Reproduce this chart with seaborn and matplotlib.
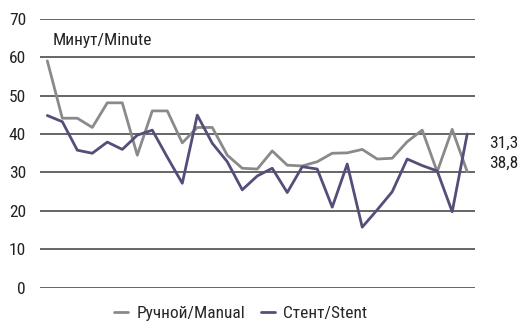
import matplotlib
matplotlib.use("Agg")
import matplotlib.pyplot as plt
import seaborn as sns
import pandas as pd
import numpy as np

# Procedure times per case, minutes
manual = [59.0, 44.1, 44.1, 41.7, 48.1, 48.1, 34.5, 46.0, 46.0, 37.7,
          41.7, 41.7, 34.5, 31.1, 30.9, 35.6, 31.9, 31.7, 32.8, 35.0,
          35.1, 36.0, 33.5, 33.7, 38.0, 41.0, 30.2, 41.2, 30.2]
stent = [44.8, 43.2, 35.8, 35.0, 37.9, 36.0, 39.7, 41.0, 34.0, 27.2,
         44.9, 37.6, 32.8, 25.5, 29.1, 31.1, 24.8, 31.5, 30.9, 21.0,
         32.2, 15.8, 20.3, 25.0, 33.5, 31.8, 30.4, 19.8, 40.0]
series_names = ["Ручной/Manual", "Стент/Stent"]
end_labels = ["31,3", "38,8"]
y_ticks = [0, 10, 20, 30, 40, 50, 60, 70]

sns.set_style("white")
plt.rcParams["font.family"] = ["Roboto Condensed", "Liberation Sans Narrow",
                               "Roboto", "DejaVu Sans"]
plt.rcParams["font.stretch"] = "condensed"

n = len(manual)
df = pd.DataFrame({
    "case": list(range(n)) * 2,
    "minutes": manual + stent,
    "series": [series_names[0]] * n + [series_names[1]] * n,
})

fig = plt.figure(figsize=(5.23, 3.27), dpi=100)
ax = fig.add_axes([0.0765, 0.1193, 0.908 - 0.0765, 0.9434 - 0.1193])

palette = {series_names[0]: "#8a8a8a", series_names[1]: "#564d7b"}
sns.lineplot(data=df, x="case", y="minutes", hue="series", palette=palette,
             linewidth=2.0, ax=ax, legend=True)

for v in y_ticks:
    ax.axhline(v, color="#3c3c3c", linewidth=1.1, zorder=0)

ax.set_ylim(0, 70)
ax.set_xlim(-0.487, 28.513)
ax.set_yticks(y_ticks)
ax.set_yticklabels([str(v) for v in y_ticks], fontsize=12.5, color="#222222")
ax.set_xticks([])
ax.tick_params(axis="y", length=0, pad=10)
ax.set_xlabel("")
ax.set_ylabel("")
for s in ax.spines.values():
    s.set_visible(False)

ax.text(0.36, 64.4, "Минут/Minute", fontsize=12.5, color="#222222",
        ha="left", va="center")

ax.text(1.032, 37.6, end_labels[0], transform=ax.get_yaxis_transform(),
        fontsize=12.5, color="#222222", ha="left", va="center", clip_on=False)
ax.text(1.032, 32.4, end_labels[1], transform=ax.get_yaxis_transform(),
        fontsize=12.5, color="#222222", ha="left", va="center", clip_on=False)

handles, labels = ax.get_legend_handles_labels()
ax.legend(handles, labels, loc="center", bbox_to_anchor=(0.461, -0.093),
          ncol=2, frameon=False, fontsize=12.5, handlelength=0.8,
          handletextpad=0.5, columnspacing=0.9)

fig.savefig("out.png", dpi=100)
